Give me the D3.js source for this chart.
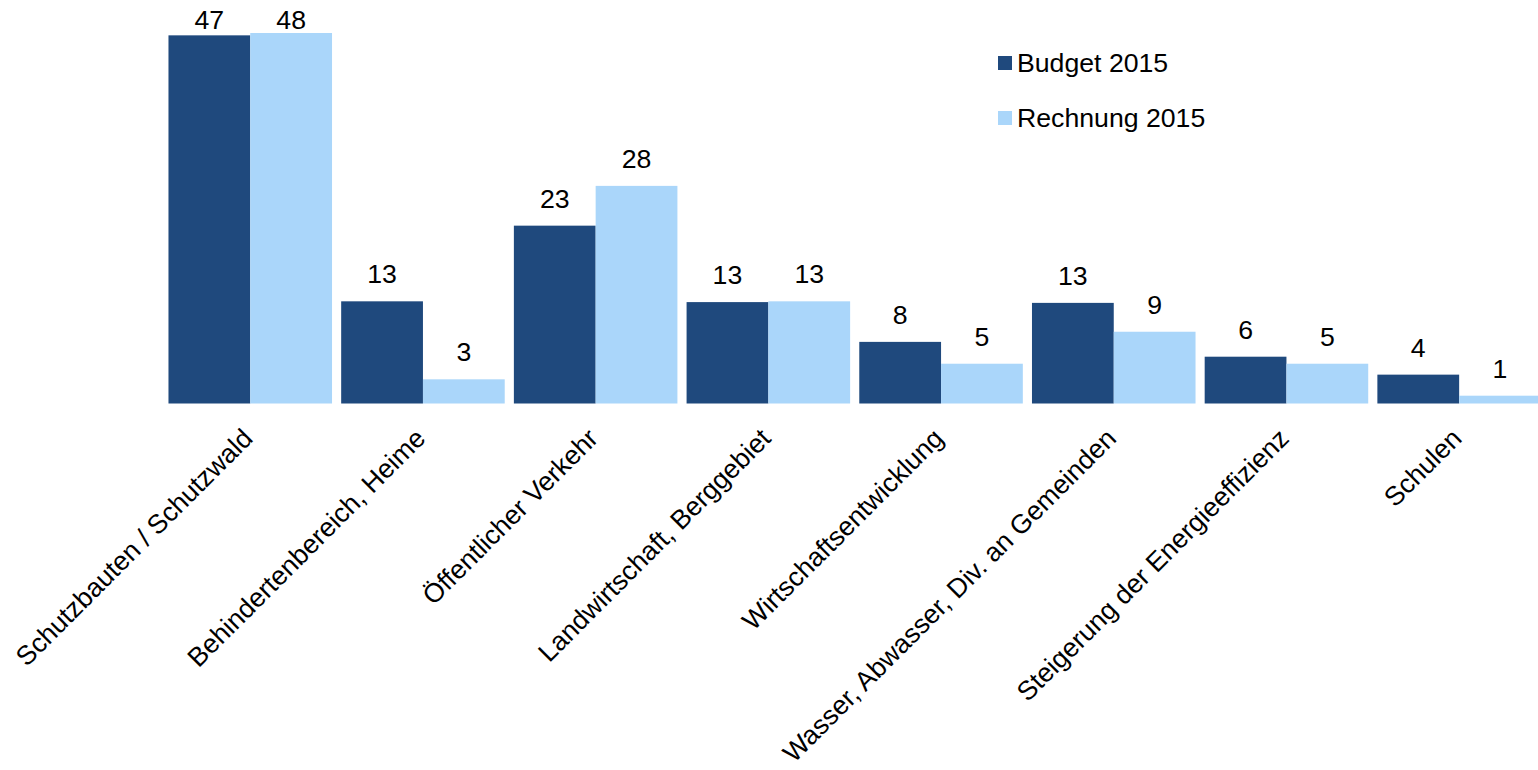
<!DOCTYPE html>
<html>
<head>
<meta charset="utf-8">
<script src="https://cdn.jsdelivr.net/npm/d3@7"></script>
<style>
  html, body { margin: 0; padding: 0; background: #fff; }
  svg { display: block; }
  text { font-family: "Liberation Sans", Arial, sans-serif; fill: #000; }
</style>
</head>
<body>
<svg id="chart" width="1538" height="770"></svg>
<script>
const categories = [
  "Schutzbauten / Schutzwald",
  "Behindertenbereich, Heime",
  "Öffentlicher Verkehr",
  "Landwirtschaft, Berggebiet",
  "Wirtschaftsentwicklung",
  "Wasser, Abwasser, Div. an Gemeinden",
  "Steigerung der Energieeffizienz",
  "Schulen"
];
const seriesNames = ["Budget 2015", "Rechnung 2015"];
const budget2015 = [47.2, 13.1, 22.8, 13.0, 7.9, 12.9, 6.0, 3.7];
const rechnung2015 = [47.5, 3.1, 27.9, 13.1, 5.1, 9.2, 5.1, 1.0];
const seriesColors = ["#1F497D", "#AAD6FA"];

const W = 1538, H = 770;
const baseY = 403.5;
const FS = "26.67px";
const svg = d3.select("#chart");

const x0 = d3.scaleBand()
  .domain(categories)
  .range([163.9, 163.9 + 8 * 172.7])
  .paddingInner(0.053)
  .paddingOuter(0.0265);

const x1 = d3.scaleBand()
  .domain(seriesNames)
  .range([0, x0.bandwidth()])
  .padding(0);

const y = d3.scaleLinear().domain([0, 50]).range([baseY, baseY - 50 * 7.8]);

const data = categories.map((c, i) => ({
  cat: c,
  vals: [
    { s: seriesNames[0], v: budget2015[i], color: seriesColors[0] },
    { s: seriesNames[1], v: rechnung2015[i], color: seriesColors[1] }
  ]
}));

const groups = svg.append("g").selectAll("g")
  .data(data).join("g")
  .attr("transform", d => `translate(${x0(d.cat)},0)`);

groups.selectAll("rect")
  .data(d => d.vals).join("rect")
  .attr("x", d => x1(d.s))
  .attr("width", x1.bandwidth())
  .attr("y", d => y(d.v))
  .attr("height", d => y(0) - y(d.v))
  .attr("fill", d => d.color);

groups.selectAll("text.val")
  .data(d => d.vals).join("text")
  .attr("class", "val")
  .attr("x", d => x1(d.s) + x1.bandwidth() / 2)
  .attr("y", d => Math.max(y(d.v) - 18, 28.5))
  .attr("text-anchor", "middle")
  .style("font-size", FS)
  .text(d => Math.round(d.v));

// category axis labels (rotated)
const xAxis = d3.axisBottom(x0).tickSize(0).tickPadding(0);
const axisG = svg.append("g")
  .attr("transform", `translate(0,${baseY})`)
  .call(xAxis);
axisG.select(".domain").remove();
axisG.selectAll(".tick text")
  .attr("text-anchor", "end")
  .attr("dy", 0)
  .attr("transform", "translate(4,36.5) rotate(-45)")
  .style("font-size", FS)
  .style("font-family", "'Liberation Sans', Arial, sans-serif")
  .attr("fill", "#000");

// legend
const legend = svg.append("g").attr("transform", "translate(998,0)");
const legRows = legend.selectAll("g").data(seriesNames).join("g")
  .attr("transform", (d, i) => `translate(0,${72 + i * 55})`);
legRows.append("rect")
  .attr("x", 0).attr("y", -16)
  .attr("width", 14).attr("height", 14)
  .attr("fill", (d, i) => seriesColors[i]);
legRows.append("text")
  .attr("x", 19).attr("y", 0)
  .style("font-size", FS)
  .text(d => d);
</script>
</body>
</html>
